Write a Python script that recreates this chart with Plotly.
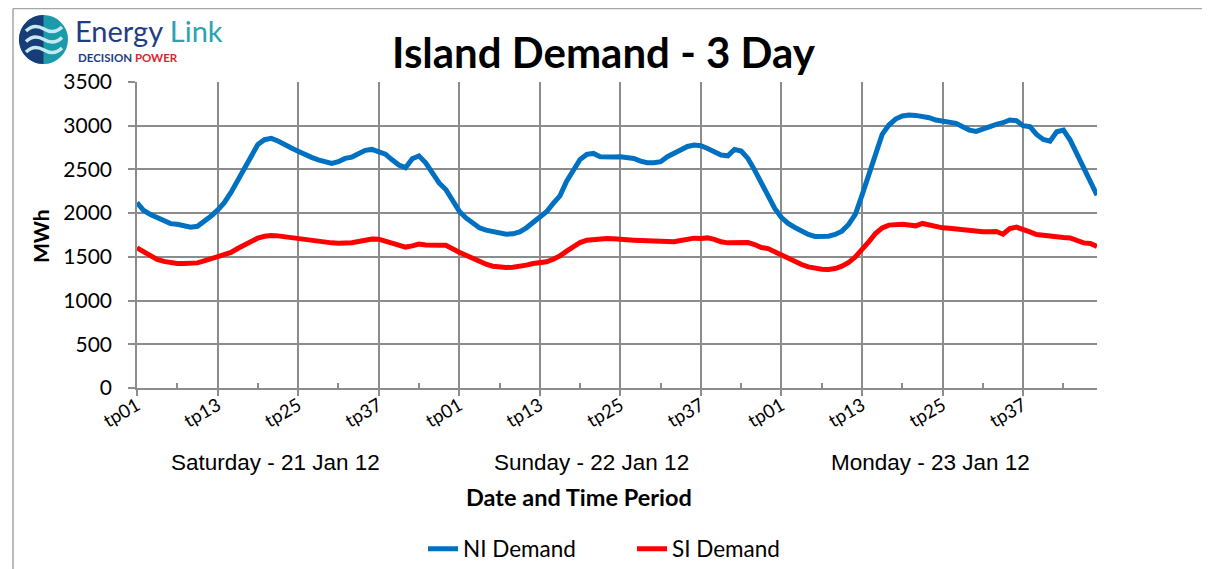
import plotly.graph_objects as go

# trading periods, 48 per day, 3 days
period_labels = ["tp%02d" % (p + 1) for p in range(48)] * 3
tick_every = 12
day_labels = ["Saturday - 21 Jan 12", "Sunday - 22 Jan 12", "Monday - 23 Jan 12"]

ni_demand = [
    2122, 2030, 1985, 1945, 1908, 1880, 1872, 1862, 1840, 1850, 1900, 1965,
    2034, 2120, 2237, 2378, 2528, 2670, 2785, 2840, 2855, 2825, 2792, 2745,
    2708, 2668, 2638, 2610, 2584, 2568, 2588, 2626, 2641, 2685, 2718, 2729,
    2702, 2675, 2610, 2550, 2520, 2622, 2655, 2575, 2460, 2345, 2270, 2135,
    2023, 1945, 1882, 1832, 1805, 1786, 1767, 1760, 1763, 1786, 1832, 1889,
    1950, 2015, 2111, 2198, 2366, 2492, 2615, 2672, 2683, 2645, 2637, 2641,
    2645, 2634, 2626, 2595, 2576, 2576, 2588, 2645, 2683, 2733, 2763, 2779,
    2771, 2740, 2700, 2664, 2656, 2729, 2710, 2626, 2492, 2340, 2198, 2053,
    1950, 1882, 1836, 1794, 1756, 1733, 1729, 1737, 1756, 1794, 1870, 1985,
    2206, 2435, 2702, 2901, 3008, 3076, 3111, 3122, 3118, 3111, 3092, 3065,
    3053, 3046, 3027, 2989, 2950, 2935, 2962, 2996, 3015, 3034, 3065, 3057,
    3000, 2989, 2901, 2843, 2824, 2931, 2950, 2836, 2683, 2511, 2359, 2206,
]

si_demand = [
    1603, 1555, 1505, 1470, 1448, 1435, 1425, 1424, 1425, 1431, 1453, 1476,
    1493, 1515, 1550, 1595, 1640, 1685, 1715, 1735, 1745, 1740, 1730, 1720,
    1708, 1695, 1688, 1670, 1664, 1660, 1656, 1656, 1662, 1676, 1692, 1705,
    1702, 1680, 1652, 1630, 1612, 1626, 1646, 1637, 1641, 1634, 1632, 1588,
    1553, 1519, 1481, 1443, 1416, 1393, 1382, 1378, 1382, 1390, 1405, 1424,
    1435, 1443, 1473, 1511, 1565, 1622, 1664, 1691, 1702, 1706, 1710, 1706,
    1698, 1687, 1691, 1687, 1683, 1683, 1675, 1668, 1672, 1687, 1702, 1714,
    1710, 1717, 1700, 1672, 1660, 1660, 1664, 1664, 1641, 1607, 1595, 1557,
    1519, 1481, 1443, 1412, 1385, 1366, 1359, 1355, 1366, 1393, 1435, 1500,
    1576, 1672, 1767, 1832, 1863, 1874, 1874, 1865, 1855, 1882, 1863, 1843,
    1832, 1828, 1817, 1805, 1794, 1786, 1786, 1786, 1790, 1759, 1824, 1840,
    1817, 1786, 1756, 1744, 1733, 1725, 1721, 1717, 1687, 1660, 1652, 1618,
]

W, H = 1210, 569
OFF = 8                           # page body margin
L, R, T, B = 137, 1097, 82, 388   # plot area, screen pixels
GRID = "#8c8c8c"


# screen pixel -> paper (paper = plot area)
def px(x):
    return (x - L) / (R - L)


def py(y):
    return (B - y) / (B - T)


idx = list(range(len(ni_demand)))
tickvals = idx[::tick_every]
ticktext = period_labels[::tick_every]
minorvals = [i + tick_every // 2 for i in tickvals]

fig = go.Figure()
fig.add_trace(go.Scatter(x=idx, y=ni_demand, mode="lines", name="NI Demand",
                         line=dict(color="#0070C0", width=5)))
fig.add_trace(go.Scatter(x=idx, y=si_demand, mode="lines", name="SI Demand",
                         line=dict(color="#FF0000", width=5)))

fig.update_layout(
    width=W, height=H,
    margin=dict(l=L - OFF, r=W - R + OFF, t=T - OFF, b=H - B + OFF, autoexpand=False),
    paper_bgcolor="white", plot_bgcolor="white",
    font=dict(family="Lato", color="black"),
    legend=dict(orientation="h", x=px(423), xanchor="left", y=py(549), yanchor="middle",
                font=dict(family="Lato", size=22.5), entrywidth=164, bgcolor="rgba(0,0,0,0)"),
    xaxis=dict(range=[0, len(idx) - 1], automargin=False,
               tickmode="array", tickvals=tickvals, ticktext=ticktext, tickangle=-30,
               tickfont=dict(family="Lato", size=18.5), ticklabelstandoff=-8,
               showgrid=True, gridcolor=GRID, gridwidth=1.5,
               showline=True, linecolor=GRID, linewidth=1.5,
               ticks="outside", ticklen=6, tickcolor=GRID, tickwidth=1.5,
               minor=dict(tickvals=minorvals, ticks="inside", ticklen=5,
                          tickcolor=GRID, tickwidth=1.5, showgrid=False),
               zeroline=False),
    yaxis=dict(range=[0, 3500], dtick=500, automargin=False,
               tickfont=dict(family="Lato", size=21),
               showgrid=True, gridcolor=GRID, gridwidth=1.5,
               showline=True, linecolor=GRID, linewidth=1.5,
               ticks="outside", ticklen=7, tickcolor=GRID, tickwidth=1.5,
               ticklabelstandoff=12, zeroline=False),
)

# titles
fig.add_annotation(text="<b>Island Demand - 3 Day</b>", x=px(604), y=py(52),
                   xref="paper", yref="paper", showarrow=False, xanchor="center",
                   font=dict(family="Lato", size=42), yanchor="middle")
fig.add_annotation(text="<b>MWh</b>", x=px(40), y=py(236), xref="paper", yref="paper",
                   showarrow=False, textangle=-90, xanchor="center", yanchor="middle",
                   font=dict(family="Lato", size=21))
fig.add_annotation(text="<b>Date and Time Period</b>", x=px(579), y=py(497),
                   xref="paper", yref="paper", showarrow=False, xanchor="center",
                   font=dict(family="Lato", size=23.5), yanchor="middle")

# day labels under the period ticks
for lbl, cx in zip(day_labels, [275, 591, 930]):
    fig.add_annotation(text=lbl, x=px(cx), y=py(462), xref="paper", yref="paper",
                       showarrow=False, xanchor="center", yanchor="middle",
                       font=dict(family="Liberation Sans", size=22.5))

# chart frame
fig.add_shape(type="line", xref="paper", yref="paper", x0=px(13), x1=px(13), y0=py(8.5), y1=py(H + 10),
              line=dict(color="#a6a6a6", width=1.5))
fig.add_shape(type="line", xref="paper", yref="paper", x0=px(13), x1=px(W + 10), y0=py(8.5), y1=py(8.5),
              line=dict(color="#a6a6a6", width=1.5))

# logo
cx, cy, r = 43.5, 39.5, 24.5
k = 0.5523 * r
fig.add_shape(type="circle", xref="paper", yref="paper",
              x0=px(cx - r), x1=px(cx + r), y0=py(cy + r), y1=py(cy - r),
              fillcolor="#1b9aaa", line=dict(width=0))
half = ("M %f,%f C %f,%f %f,%f %f,%f C %f,%f %f,%f %f,%f Z" % (
    px(cx), py(cy - r),
    px(cx - k), py(cy - r), px(cx - r), py(cy - k), px(cx - r), py(cy),
    px(cx - r), py(cy + k), px(cx - k), py(cy + r), px(cx), py(cy + r)))
fig.add_shape(type="path", xref="paper", yref="paper", path=half,
              fillcolor="#173c78", line=dict(width=0))
for wy in [29, 39.5, 50]:
    wave = "M %f,%f Q %f,%f %f,%f Q %f,%f %f,%f" % (
        px(26), py(wy + 2), px(34), py(wy - 6), px(44), py(wy),
        px(54), py(wy + 6), px(62), py(wy - 2))
    fig.add_shape(type="path", xref="paper", yref="paper", path=wave,
                  line=dict(color="#c4e9ef", width=3.5))

fig.add_annotation(text="<span style='color:#1f3d86'>Energy</span> <span style='color:#2aa3b3'>Link</span>",
                   x=px(73), y=py(31), xref="paper", yref="paper", showarrow=False,
                   xanchor="left", yanchor="middle", font=dict(family="Lato", size=29))
fig.add_annotation(text="<b><span style='color:#1f3d86'>DECISION</span> <span style='color:#d8262f'>POWER</span></b>",
                   x=px(76), y=py(57.5), xref="paper", yref="paper", showarrow=False,
                   xanchor="left", yanchor="middle", font=dict(family="Lato", size=11.5))

fig.write_html("out.html")
